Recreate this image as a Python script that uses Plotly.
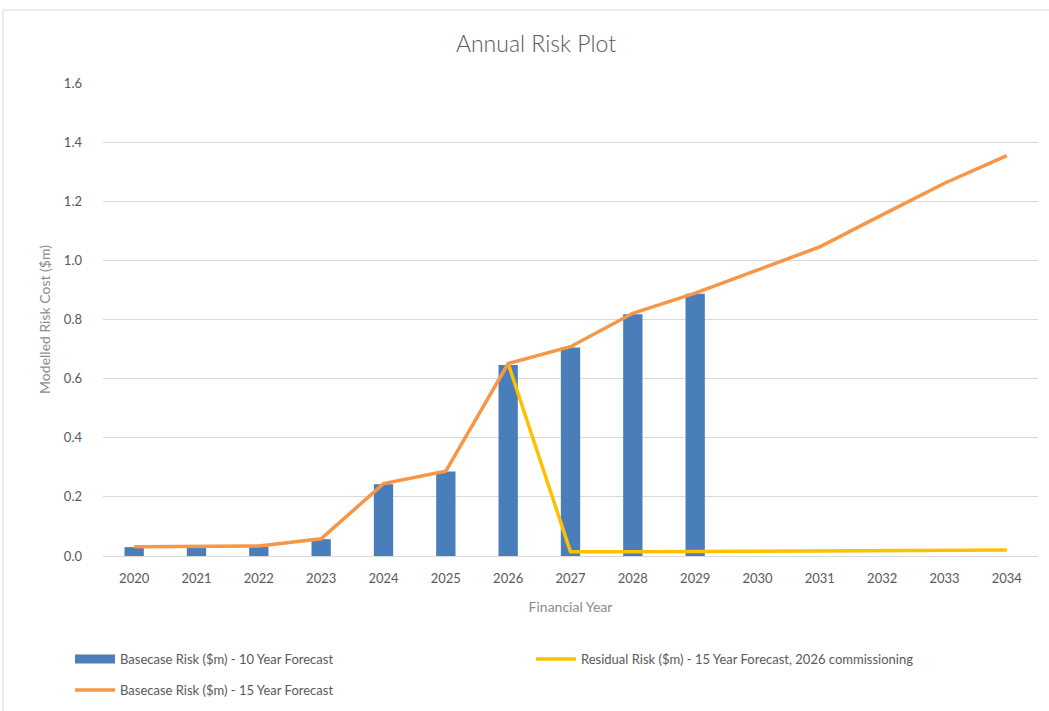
import plotly.graph_objects as go

years = [str(y) for y in range(2020, 2035)]

# Basecase risk, 10-year forecast (bars, 2020-2029)
base_10yr = [0.030, 0.030, 0.031, 0.057, 0.243, 0.286, 0.646, 0.705, 0.818, 0.887]
# Basecase risk, 15-year forecast (line, 2020-2034)
base_15yr = [0.031, 0.032, 0.034, 0.058, 0.245, 0.287, 0.651, 0.708, 0.821, 0.889,
             0.967, 1.046, 1.154, 1.261, 1.354]
# Residual risk with 2026 commissioning (line, 2026-2034)
residual_years = years[6:]
residual_15yr = [0.651, 0.014, 0.014, 0.015, 0.016, 0.017, 0.018, 0.019, 0.020]

y_ticks = [0.0, 0.2, 0.4, 0.6, 0.8, 1.0, 1.2, 1.4, 1.6]

BLUE = "#4A7EBB"
ORANGE = "#F79646"
YELLOW = "#FFC000"
TEXT = "#595959"
AXIS_TITLE = "#8C8C8C"
GRID = "#D9D9D9"
FONT = "Lato"

W, H = 1049, 711
L, R, T, B = 103, 11, 83, 155
PW, PH = W - L - R, H - T - B

fig = go.Figure()
fig.add_trace(go.Bar(
    x=years[:len(base_10yr)], y=base_10yr,
    name="Basecase Risk ($m) - 10 Year Forecast",
    marker=dict(color=BLUE, line=dict(width=0)),
    showlegend=False,
))
fig.add_trace(go.Scatter(
    x=residual_years, y=residual_15yr, mode="lines",
    name="Residual Risk ($m) - 15 Year Forecast, 2026 commissioning",
    line=dict(color=YELLOW, width=3.5),
    legend="legend3",
))
fig.add_trace(go.Scatter(
    x=years, y=base_15yr, mode="lines",
    name="Basecase Risk ($m) - 15 Year Forecast",
    line=dict(color=ORANGE, width=3.5),
    legend="legend2",
))
# Wide rectangular key for the bar series
fig.add_trace(go.Scatter(
    x=[None], y=[None], mode="lines",
    name="Basecase Risk ($m) - 10 Year Forecast",
    line=dict(color=BLUE, width=9),
    legend="legend",
))

legend_common = dict(
    orientation="h", xref="container", xanchor="left",
    yref="container", yanchor="middle",
    font=dict(family=FONT, size=13, color=TEXT),
    itemwidth=40, bgcolor="rgba(0,0,0,0)",
)

fig.update_layout(
    width=W, height=H,
    margin=dict(l=L, r=R, t=T, b=B),
    paper_bgcolor="white", plot_bgcolor="white",
    bargap=0.69,
    font=dict(family=FONT, color=TEXT, size=12),
    title=dict(text="Annual Risk Plot", x=536 / W, xref="container",
               xanchor="center", y=1 - 44 / H, yanchor="middle",
               font=dict(family=FONT, size=23, color=TEXT, weight=300)),
    xaxis=dict(
        type="category", categoryorder="array", categoryarray=years,
        range=[-0.5, len(years) - 0.5],
        showgrid=False, showline=True, linecolor=GRID, linewidth=1,
        ticks="", tickfont=dict(size=13, color=TEXT),
        ticklabelstandoff=10,
        title=dict(text="Financial Year", standoff=17,
                   font=dict(size=14, color=AXIS_TITLE)),
    ),
    yaxis=dict(
        range=[0, 1.6], tickvals=y_ticks,
        ticktext=[f"{v:.1f}" for v in y_ticks],
        showgrid=True, gridcolor=GRID, gridwidth=1,
        zeroline=False, showline=False, ticks="",
        tickfont=dict(size=13, color=TEXT),
        ticklabelstandoff=20,
        title=dict(text="Modelled Risk Cost ($m)", standoff=9,
                   font=dict(size=14, color=AXIS_TITLE)),
    ),
    legend=dict(x=70 / W, y=1 - 659 / H, **legend_common),
    legend2=dict(x=70 / W, y=1 - 690 / H, **legend_common),
    legend3=dict(x=531 / W, y=1 - 659 / H, **legend_common),
    shapes=[dict(type="rect", xref="paper", yref="paper",
                 x0=(3 - L) / PW, x1=(W + 10 - L) / PW,
                 y0=-(B + 20) / PH, y1=(PH + T - 10) / PH,
                 line=dict(color=GRID, width=1), layer="below")],
)

fig.write_html("out.html")
